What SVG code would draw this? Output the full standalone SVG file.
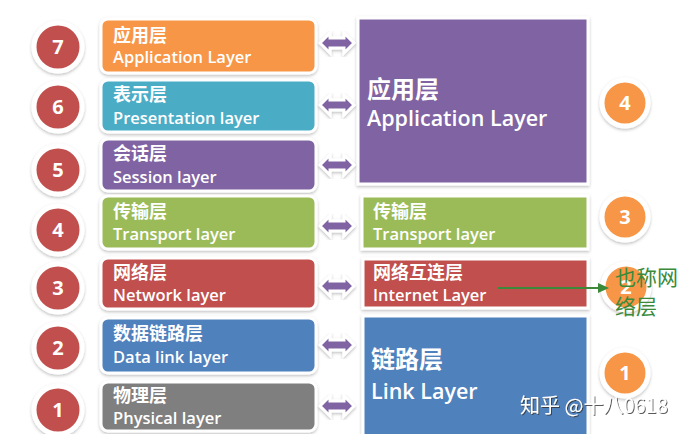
<svg xmlns="http://www.w3.org/2000/svg" width="693" height="434" viewBox="0 0 693 434">
<defs>
<filter id="sh" x="-10%" y="-10%" width="120%" height="130%">
<feDropShadow dx="0" dy="1.5" stdDeviation="1.5" flood-color="#000" flood-opacity="0.25"/>
</filter>
<filter id="wm" x="-5%" y="-20%" width="110%" height="150%">
<feDropShadow dx="1" dy="1" stdDeviation="0.6" flood-color="#333" flood-opacity="0.8"/>
</filter>
<path id="dbl" d="M-17,0 L-7,-10 L-7,-5 L7,-5 L7,-10 L17,0 L7,10 L7,5 L-7,5 L-7,10 Z"/>
</defs>
<style>
.box{stroke:#fff;stroke-width:3;filter:url(#sh)}
.circ{stroke:#fff;stroke-width:5;filter:url(#sh)}
.cn{font-family:"Noto Sans CJK SC","Noto Sans",sans-serif;font-weight:700;fill:#fff}
.en{font-family:"Open Sans","Noto Sans",sans-serif;font-weight:600;fill:#fff}
.num{font-family:"Open Sans","Noto Sans",sans-serif;font-weight:700;fill:#fff;font-size:20px;text-anchor:middle}
.arr{fill:#8064a2;stroke:#fff;stroke-width:3;stroke-linejoin:miter;filter:url(#sh)}
.s{font-size:18px}
.e{font-size:16.5px}
.note{font-family:"Noto Sans CJK SC","Noto Sans",sans-serif;font-size:21px;fill:#3a8a3a}
</style>
<rect width="693" height="434" fill="#fff"/>

<g id="osi7">
<circle class="circ" cx="58" cy="47" r="24" fill="#c0504d"/>
<text class="num" x="58" y="54">7</text>
<rect class="box" x="101" y="19" width="215" height="54" rx="7" fill="#f79646"/>
<text class="cn s" x="113" y="42">应用层</text>
<text class="en e" x="113" y="63">Application Layer</text>
</g>
<g id="osi6">
<circle class="circ" cx="58" cy="107" r="24" fill="#c0504d"/>
<text class="num" x="58" y="114">6</text>
<rect class="box" x="101" y="80" width="215" height="52" rx="7" fill="#4bacc6"/>
<text class="cn s" x="113" y="101">表示层</text>
<text class="en e" x="113" y="124">Presentation layer</text>
</g>
<g id="osi5">
<circle class="circ" cx="58" cy="170" r="24" fill="#c0504d"/>
<text class="num" x="58" y="177">5</text>
<rect class="box" x="101" y="139" width="215" height="52" rx="7" fill="#8064a2"/>
<text class="cn s" x="113" y="160">会话层</text>
<text class="en e" x="113" y="183">Session layer</text>
</g>
<g id="osi4">
<circle class="circ" cx="58" cy="230" r="24" fill="#c0504d"/>
<text class="num" x="58" y="237">4</text>
<rect class="box" x="101" y="196" width="215" height="53" rx="7" fill="#9bbb59"/>
<text class="cn s" x="113" y="218">传输层</text>
<text class="en e" x="113" y="240">Transport layer</text>
</g>
<g id="osi3">
<circle class="circ" cx="58" cy="288" r="24" fill="#c0504d"/>
<text class="num" x="58" y="295">3</text>
<rect class="box" x="101" y="258" width="215" height="51" rx="7" fill="#c0504d"/>
<text class="cn s" x="113" y="279">网络层</text>
<text class="en e" x="113" y="301">Network layer</text>
</g>
<g id="osi2">
<circle class="circ" cx="58" cy="348" r="24" fill="#c0504d"/>
<text class="num" x="58" y="355">2</text>
<rect class="box" x="101" y="318" width="215" height="55" rx="7" fill="#4f81bd"/>
<text class="cn s" x="113" y="340">数据链路层</text>
<text class="en e" x="113" y="363">Data link layer</text>
</g>
<g id="osi1">
<circle class="circ" cx="58" cy="410" r="24" fill="#c0504d"/>
<text class="num" x="58" y="417">1</text>
<rect class="box" x="101" y="382" width="215" height="49" rx="7" fill="#7f7f7f"/>
<text class="cn s" x="113" y="402">物理层</text>
<text class="en e" x="113" y="424">Physical layer</text>
</g>

<g id="tcp4">
<rect class="box" x="358" y="18" width="230" height="166" fill="#8064a2"/>
<text class="cn" font-size="24" x="367" y="98">应用层</text>
<text class="en" font-size="21.5" x="367" y="126">Application Layer</text>
<circle class="circ" cx="625" cy="103" r="23" fill="#f79646"/>
<text class="num" x="625" y="110">4</text>
</g>
<g id="tcp3">
<rect class="box" x="362" y="196" width="226" height="53" fill="#9bbb59"/>
<text class="cn s" x="373" y="218">传输层</text>
<text class="en e" x="373" y="240">Transport layer</text>
<circle class="circ" cx="625" cy="217" r="23" fill="#f79646"/>
<text class="num" x="625" y="224">3</text>
</g>
<g id="tcp2">
<rect class="box" x="363" y="259" width="225" height="49" fill="#c0504d"/>
<text class="cn s" x="373" y="279">网络互连层</text>
<text class="en e" x="373" y="301">Internet Layer</text>
<circle class="circ" cx="626" cy="287" r="23" fill="#f79646"/>
<text class="num" x="626" y="294">2</text>
</g>
<g id="tcp1">
<rect class="box" x="363" y="316" width="225" height="120" fill="#4f81bd"/>
<text class="cn" font-size="24" x="371" y="368">链路层</text>
<text class="en" font-size="21.5" x="371" y="399">Link Layer</text>
<circle class="circ" cx="625" cy="373" r="23" fill="#f79646"/>
<text class="num" x="625" y="380">1</text>
</g>

<g id="connectors">
<use href="#dbl" class="arr" x="337" y="43"/>
<use href="#dbl" class="arr" x="337" y="105"/>
<use href="#dbl" class="arr" x="337" y="165"/>
<use href="#dbl" class="arr" x="337" y="226"/>
<use href="#dbl" class="arr" x="337" y="286"/>
<use href="#dbl" class="arr" x="337" y="345"/>
<use href="#dbl" class="arr" x="337" y="406"/>
<line x1="498" y1="288" x2="600" y2="288" stroke="#3a8a3a" stroke-width="2"/>
<path d="M598,283 L609,288 L598,293 Z" fill="#3a8a3a"/>
</g>

<g id="note">
<text class="note" x="615" y="285">也称网</text>
<text class="note" x="615" y="314">络层</text>
</g>
<g id="watermark" filter="url(#wm)">
<text font-family="Noto Sans CJK SC,sans-serif" font-size="20" fill="#fff" x="520" y="413">知乎 @十八0618</text>
</g>
</svg>
